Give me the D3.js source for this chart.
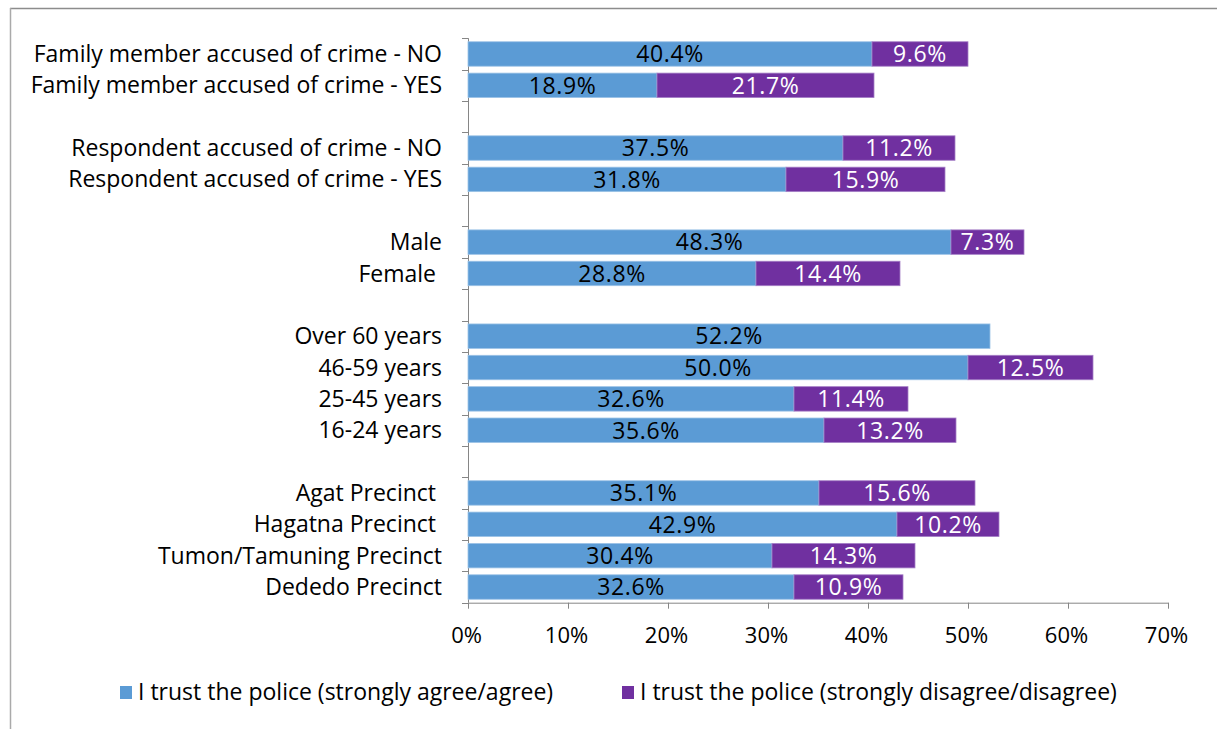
<!DOCTYPE html>
<html><head><meta charset="utf-8">
<script src="https://cdn.jsdelivr.net/npm/d3@7"></script>
<style>body{margin:0;background:#fff}svg{display:block}</style>
</head><body>
<svg id="c" width="1217" height="729"></svg>
<script>
const categories = [
  "Family member accused of crime - NO",
  "Family member accused of crime - YES",
  "gap1",
  "Respondent accused of crime - NO",
  "Respondent accused of crime - YES",
  "gap2",
  "Male",
  "Female ",
  "gap3",
  "Over 60 years",
  "46-59 years",
  "25-45 years",
  "16-24 years",
  "gap4",
  "Agat Precinct ",
  "Hagatna Precinct ",
  "Tumon/Tamuning Precinct",
  "Dededo Precinct"
];
const agree    = [40.4, 18.9, null, 37.5, 31.8, null, 48.3, 28.8, null, 52.2, 50.0, 32.6, 35.6, null, 35.1, 42.9, 30.4, 32.6];
const disagree = [9.6, 21.7, null, 11.2, 15.9, null, 7.3, 14.4, null, null, 12.5, 11.4, 13.2, null, 15.6, 10.2, 14.3, 10.9];
const seriesNames = ["I trust the police (strongly agree/agree)", "I trust the police (strongly disagree/disagree)"];
const colors = ["#5B9BD5", "#7030A0"];
const xTicks = [0, 10, 20, 30, 40, 50, 60, 70];

const FONT = "'Open Sans', sans-serif";
const svg = d3.select("#c");
svg.append("line").attr("x1",10).attr("x2",1217).attr("y1",8.5).attr("y2",8.5).attr("stroke","#8c8c8c").attr("stroke-width",1.5);
svg.append("line").attr("x1",10.5).attr("x2",10.5).attr("y1",8).attr("y2",729).attr("stroke","#aaaaaa").attr("stroke-width",1.5);

const x = d3.scaleLinear().domain([0,70]).range([468,1168]);
const y = d3.scaleBand().domain(categories).range([38.3,602.7]).paddingInner(0.22).paddingOuter(0.11);
const band = d3.scaleBand().domain(categories).range([38.3,602.7]);

const g = svg.append("g");
const xAxis = d3.axisBottom(x).tickValues(xTicks).tickFormat(d=>d+"%").tickSize(6).tickSizeOuter(0);
const xg = g.append("g").attr("transform",`translate(0,${602.7})`).call(xAxis);
xg.select(".domain").attr("stroke","#868686");
xg.selectAll(".tick line").attr("stroke","#868686");
xg.selectAll(".tick text").attr("font-family",FONT).attr("font-size",22).attr("fill","#000").attr("y",25).attr("dy","0.71em").attr("dx",-2);

const yl = g.append("g");
yl.append("line").attr("x1",468.5).attr("x2",468.5).attr("y1",38.3).attr("y2",602.7).attr("stroke","#868686");
const bounds = categories.map(c=>band(c)).concat([602.7]);
yl.selectAll("line.t").data(bounds).join("line").attr("class","t")
  .attr("x1",462).attr("x2",468.5).attr("y1",d=>Math.round(d)+0.5).attr("y2",d=>Math.round(d)+0.5).attr("stroke","#868686");

yl.selectAll("text").data(categories.filter(c=>!c.startsWith("gap"))).join("text")
  .attr("x",442).attr("y",d=>band(d)+band.bandwidth()/2).attr("dy","0.35em")
  .attr("text-anchor","end").attr("font-family",FONT).attr("font-size",23).attr("fill","#000")
  .style("white-space","pre").text(d=>d);

const rows = categories.map((c,i)=>({c, a:agree[i], d:disagree[i]})).filter(r=>r.a!=null);
const bars = g.append("g");
rows.forEach(r=>{
  const yy = y(r.c), h = y.bandwidth();
  bars.append("rect").attr("x",x(0)).attr("y",yy).attr("width",x(r.a)-x(0)).attr("height",h)
    .attr("fill",colors[0]).attr("stroke","#9cc3e6").attr("stroke-width",0.8);
  bars.append("text").attr("x",(x(0)+x(r.a))/2).attr("y",yy+h/2).attr("dy","0.36em").attr("text-anchor","middle")
    .attr("font-family",FONT).attr("font-size",23).attr("letter-spacing",0.6).attr("fill","#000").text(r.a.toFixed(1)+"%");
  if(r.d!=null){
    bars.append("rect").attr("x",x(r.a)).attr("y",yy).attr("width",x(r.a+r.d)-x(r.a)).attr("height",h)
      .attr("fill",colors[1]).attr("stroke","#a57fc6").attr("stroke-width",0.8);
    bars.append("text").attr("x",(x(r.a)+x(r.a+r.d))/2).attr("y",yy+h/2).attr("dy","0.36em").attr("text-anchor","middle")
      .attr("font-family",FONT).attr("font-size",23).attr("letter-spacing",0.6).attr("fill","#fff").text(r.d.toFixed(1)+"%");
  }
});

const leg = svg.append("g");
const legX = [120, 622];
seriesNames.forEach((n,i)=>{
  leg.append("rect").attr("x",legX[i]).attr("y",686).attr("width",12).attr("height",13).attr("fill",colors[i]);
  leg.append("text").attr("x",legX[i]+18).attr("y",692).attr("dy","0.35em").attr("font-family",FONT).attr("font-size",23).attr("fill","#000").text(n);
});
</script>
</body></html>
